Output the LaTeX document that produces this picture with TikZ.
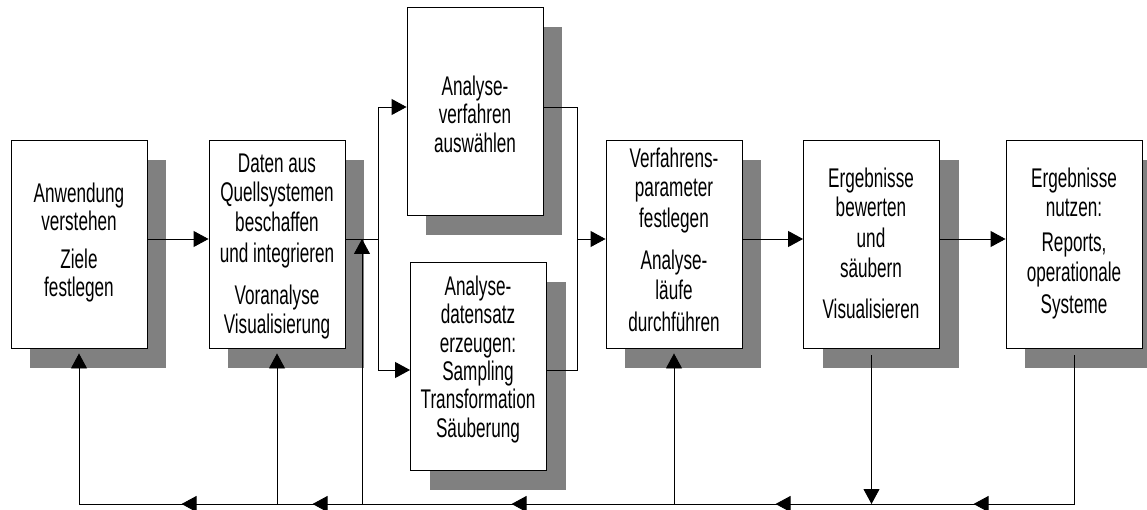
\documentclass[tikz,border=0pt]{standalone}
\usepackage{fontspec}
\setmainfont{Liberation Sans}[FakeStretch=0.635]
\usetikzlibrary{arrows.meta,shadows,decorations.markings}
\definecolor{shadowgray}{HTML}{808080}
\begin{document}
\begin{tikzpicture}[x=1pt,y=-1pt,
  box/.style={draw=black,line width=0.9pt,fill=white,minimum width=136pt,minimum height=208pt,inner sep=0pt,
    general shadow={fill=shadowgray,shadow xshift=19pt,shadow yshift=-20pt}},
  lbl/.style={inner sep=0pt,anchor=base,font=\fontsize{27pt}{29pt}\selectfont},
  conn/.style={line width=0.9pt,draw=black},
  tip/.tip={Triangle[length=15pt,width=16pt]},
  arr/.style={conn,-tip},
  tipl/.style={postaction={decorate},decoration={markings,
     mark=at position 249pt with {\arrow{tip}},
     mark=at position 447pt with {\arrow{tip}},
     mark=at position 711pt with {\arrow{tip}},
     mark=at position 910pt with {\arrow{tip}},
     mark=at position 1041pt with {\arrow{tip}}}}
]
\useasboundingbox (0,0) rectangle (1147,510);

% boxes
\node[box] (b1) at (79,244) {};
\node[box] (b2) at (277,244) {};
\node[box] (b3) at (475,111.5) {};
\node[box] (b4) at (478.5,366) {};
\node[box] (b5) at (674,244) {};
\node[box] (b6) at (871.5,244) {};
\node[box] (b7) at (1074,244) {};

% texts
\foreach \x/\y/\t [count=\i] in {
  79/203/Anwendung, 79/231/verstehen, 79/269/Ziele, 79/297/festlegen,
  277/173/Daten aus, 277/202/Quellsystemen, 277/232/beschaffen, 277/263/und integrieren, 277/305/Voranalyse, 277/333/Visualisierung,
  475/96/Analyse-, 475/124/verfahren, 475/153/auswählen,
  478/295/Analyse-, 478/323/datensatz, 478/352/erzeugen:, 478/380/Sampling, 478/408/Transformation, 478/437/Säuberung,
  674/168/Verfahrens-, 674/197/parameter, 674/228/festlegen, 674/270/Analyse-, 674/299/läufe, 674/331/durchführen,
  871/188/Ergebnisse, 871/217/bewerten, 871/248/und, 871/278/säubern, 871/318/Visualisieren,
  1074/188/Ergebnisse, 1074/217/nutzen:, 1074/252/{Reports,}, 1074/282/operationale, 1074/313/Systeme}
  \node[lbl] (t\i) at (\x,\y) {\t};

% helper coordinates
\coordinate (row) at (0,239);
\coordinate (spl) at (378,239);
\coordinate (ua) at (378,107);
\coordinate (la) at (378,370);
\coordinate (ub) at (577,107);
\coordinate (lb) at (577,370);
\coordinate (mrg) at (577,239);
\coordinate (fbk) at (362,239);
\coordinate (bot) at (0,504);

% forward flow
\draw[arr] (b1.east |- row) -- (b2.west |- row);
\draw[conn] (b2.east |- row) -- (spl);
\draw[arr] (spl) -- (ua) -- (b3.west |- ua);
\draw[arr] (spl) -- (la) -- (b4.west |- la);
\draw[conn] (b3.east |- ub) -- (ub) -- (lb) -- (b4.east |- lb);
\draw[arr] (mrg) -- (b5.west |- mrg);
\draw[arr] (b5.east |- row) -- (b6.west |- row);
\draw[arr] (b6.east |- row) -- (b7.west |- row);

% feedback
\draw[arr,tipl] ([yshift=-7pt]b7.south) -- (b7.south |- bot) -- (b1.south |- bot) -- ([yshift=-5pt]b1.south);
\draw[arr] ([yshift=-7pt]b6.south) -- (b6.south |- bot);
\draw[arr] (b5.south |- bot) -- ([yshift=-5pt]b5.south);
\draw[arr] (b2.south |- bot) -- ([yshift=-5pt]b2.south);
\draw[arr] (fbk |- bot) -- (fbk);
\end{tikzpicture}
\end{document}
